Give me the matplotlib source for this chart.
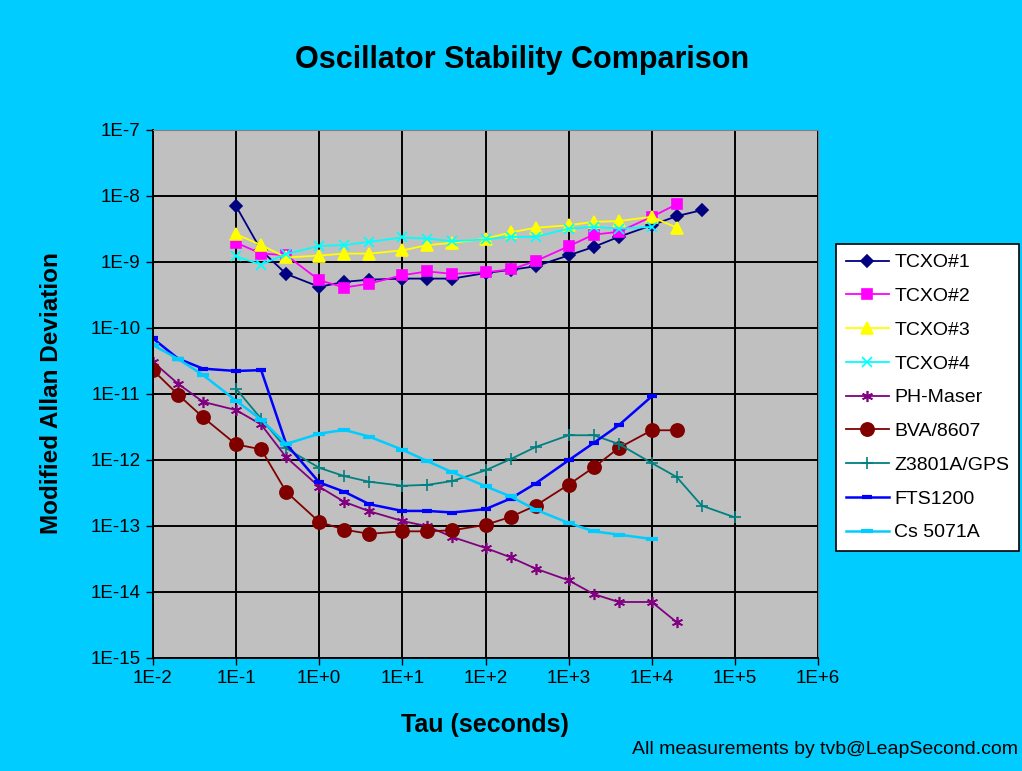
import numpy as np
import matplotlib.pyplot as plt
from matplotlib.ticker import FixedLocator, FuncFormatter, NullLocator

plt.rcParams['font.family'] = ['Liberation Sans', 'DejaVu Sans']

# tau values (seconds)
tau_tcxo = [0.1, 0.2, 0.4, 1, 2, 4, 10, 20, 40, 100, 200, 400, 1000, 2000, 4000, 1e4, 2e4, 4e4]
tau_lo = [0.01, 0.02, 0.04, 0.1, 0.2, 0.4, 1, 2, 4, 10, 20, 40, 100, 200, 400, 1000, 2000, 4000, 1e4, 2e4]
tau_z = [0.1, 0.2, 0.4, 1, 2, 4, 10, 20, 40, 100, 200, 400, 1000, 2000, 4000, 1e4, 2e4, 4e4, 1e5]

tcxo1 = [7.0e-9, 1.5e-9, 6.6e-10, 4.2e-10, 5.0e-10, 5.4e-10, 5.6e-10, 5.6e-10, 5.6e-10, 6.8e-10,
         7.6e-10, 8.6e-10, 1.26e-9, 1.69e-9, 2.4e-9, 3.6e-9, 4.96e-9, 6.1e-9]
tcxo2 = [1.96e-9, 1.34e-9, 1.27e-9, 5.3e-10, 4.1e-10, 4.7e-10, 6.3e-10, 7.2e-10, 6.6e-10, 7.0e-10,
         7.7e-10, 1.03e-9, 1.73e-9, 2.6e-9, 2.86e-9, 4.84e-9, 7.5e-9]
tcxo3 = [2.64e-9, 1.8e-9, 1.17e-9, 1.25e-9, 1.34e-9, 1.34e-9, 1.5e-9, 1.8e-9, 1.95e-9, 2.26e-9,
         2.8e-9, 3.3e-9, 3.6e-9, 4.06e-9, 4.16e-9, 4.84e-9, 3.3e-9]
tcxo4 = [1.22e-9, 9.1e-10, 1.32e-9, 1.75e-9, 1.8e-9, 2.02e-9, 2.35e-9, 2.26e-9, 2.06e-9, 2.2e-9,
         2.4e-9, 2.4e-9, 3.2e-9, 3.4e-9, 3.2e-9, 3.4e-9]
ph_maser = [3.06e-11, 1.43e-11, 7.6e-12, 5.7e-12, 3.45e-12, 1.1e-12, 3.93e-13, 2.32e-13, 1.67e-13,
            1.19e-13, 9.9e-14, 6.8e-14, 4.65e-14, 3.35e-14, 2.26e-14, 1.5e-14, 9.3e-15, 7.05e-15,
            7.05e-15, 3.47e-15]
bva = [2.29e-11, 9.8e-12, 4.43e-12, 1.72e-12, 1.45e-12, 3.3e-13, 1.15e-13, 8.8e-14, 7.6e-14,
       8.3e-14, 8.3e-14, 8.6e-14, 1.04e-13, 1.37e-13, 2.03e-13, 4.23e-13, 7.7e-13, 1.52e-12,
       2.82e-12, 2.82e-12]
z3801a = [1.2e-11, 4.2e-12, 1.5e-12, 7.6e-13, 5.7e-13, 4.68e-13, 4.07e-13, 4.2e-13, 4.8e-13,
          6.97e-13, 1.03e-12, 1.57e-12, 2.37e-12, 2.37e-12, 1.75e-12, 9.0e-13, 5.5e-13, 2.03e-13,
          1.35e-13]
fts1200 = [6.95e-11, 3.44e-11, 2.42e-11, 2.23e-11, 2.3e-11, 1.75e-12, 4.57e-13, 3.3e-13, 2.14e-13,
           1.69e-13, 1.69e-13, 1.6e-13, 1.8e-13, 2.6e-13, 4.4e-13, 9.9e-13, 1.81e-12, 3.35e-12, 9.2e-12]
cs5071a = [5.5e-11, 3.4e-11, 1.94e-11, 7.9e-12, 4.1e-12, 1.75e-12, 2.5e-12, 2.86e-12, 2.26e-12,
           1.43e-12, 9.6e-13, 6.5e-13, 4.0e-13, 2.8e-13, 1.77e-13, 1.11e-13, 8.3e-14, 7.4e-14, 6.35e-14]

series = [
    ('TCXO#1', tau_tcxo, tcxo1, '#000080', 'D', 6.5, 1.3),
    ('TCXO#2', tau_tcxo, tcxo2, '#FF00FF', 's', 7.5, 1.3),
    ('TCXO#3', tau_tcxo, tcxo3, '#FFFF00', '^', 8.5, 1.3),
    ('TCXO#4', tau_tcxo, tcxo4, '#00FFFF', 'x', 6.5, 1.3),
    ('PH-Maser', tau_lo, ph_maser, '#800080', (6, 2, 0), 8, 1.3),
    ('BVA/8607', tau_lo, bva, '#800000', 'o', 9.5, 1.3),
    ('Z3801A/GPS', tau_z, z3801a, '#008080', '+', 8, 1.3),
    ('FTS1200', tau_lo, fts1200, '#0000FF', '_', 7, 1.8),
    ('Cs 5071A', tau_lo, cs5071a, '#00CCFF', '_', 9, 1.8),
]

fig = plt.figure(figsize=(10.22, 7.71), dpi=100, facecolor='#00CCFF')
ax = fig.add_axes([0.1497, 0.1466, 0.6507, 0.6848])
ax.set_facecolor('#C0C0C0')

for name, t, v, col, mk, ms, lw in series:
    n = len(v)
    mew = 3 if mk == '_' else 1.2
    ax.plot(t[:n], v, color=col, marker=mk, markersize=ms, linewidth=lw,
            markeredgecolor=col, markerfacecolor=col, markeredgewidth=mew, label=name)

ax.set_xscale('log')
ax.set_yscale('log')
ax.set_xlim(1e-2, 1e6)
ax.set_ylim(1e-15, 1e-7)

fmt = FuncFormatter(lambda v, p: '1E%+d' % int(round(np.log10(v))))
ax.xaxis.set_major_locator(FixedLocator([10.0 ** k for k in range(-2, 7)]))
ax.yaxis.set_major_locator(FixedLocator([10.0 ** k for k in range(-15, -6)]))
ax.xaxis.set_minor_locator(NullLocator())
ax.yaxis.set_minor_locator(NullLocator())
ax.xaxis.set_major_formatter(fmt)
ax.yaxis.set_major_formatter(fmt)
ax.tick_params(labelsize=13.5, length=5, width=1, direction='out', pad=4)
ax.grid(True, color='black', linewidth=1.4)
ax.set_axisbelow(True)
for s in ['top', 'right']:
    ax.spines[s].set_color('#808080')
for s in ['left', 'bottom']:
    ax.spines[s].set_color('black')
    ax.spines[s].set_linewidth(1.4)

fig.text(522 / 1022, 1 - 60 / 771, 'Oscillator Stability Comparison', ha='center', va='center',
         fontsize=22, fontweight='bold')
fig.text(485 / 1022, 1 - 725 / 771, 'Tau (seconds)', ha='center', va='center',
         fontsize=18, fontweight='bold')
fig.text(52 / 1022, 1 - 393 / 771, 'Modified Allan Deviation', ha='center', va='center',
         rotation=90, fontsize=17.5, fontweight='bold')
fig.text(1018 / 1022, 1 - 750 / 771, 'All measurements by tvb@LeapSecond.com', ha='right',
         va='center', fontsize=14)

leg = fig.legend(loc='upper left', bbox_to_anchor=(836 / 1022, 1 - 244 / 771), fontsize=14,
                 frameon=True, fancybox=False, edgecolor='black', facecolor='white',
                 framealpha=1, handlelength=2.2, handletextpad=0.3, labelspacing=0.83,
                 borderpad=0.5, borderaxespad=0)
leg.get_frame().set_linewidth(1.2)

fig.savefig('out.png', dpi=100, facecolor=fig.get_facecolor())
